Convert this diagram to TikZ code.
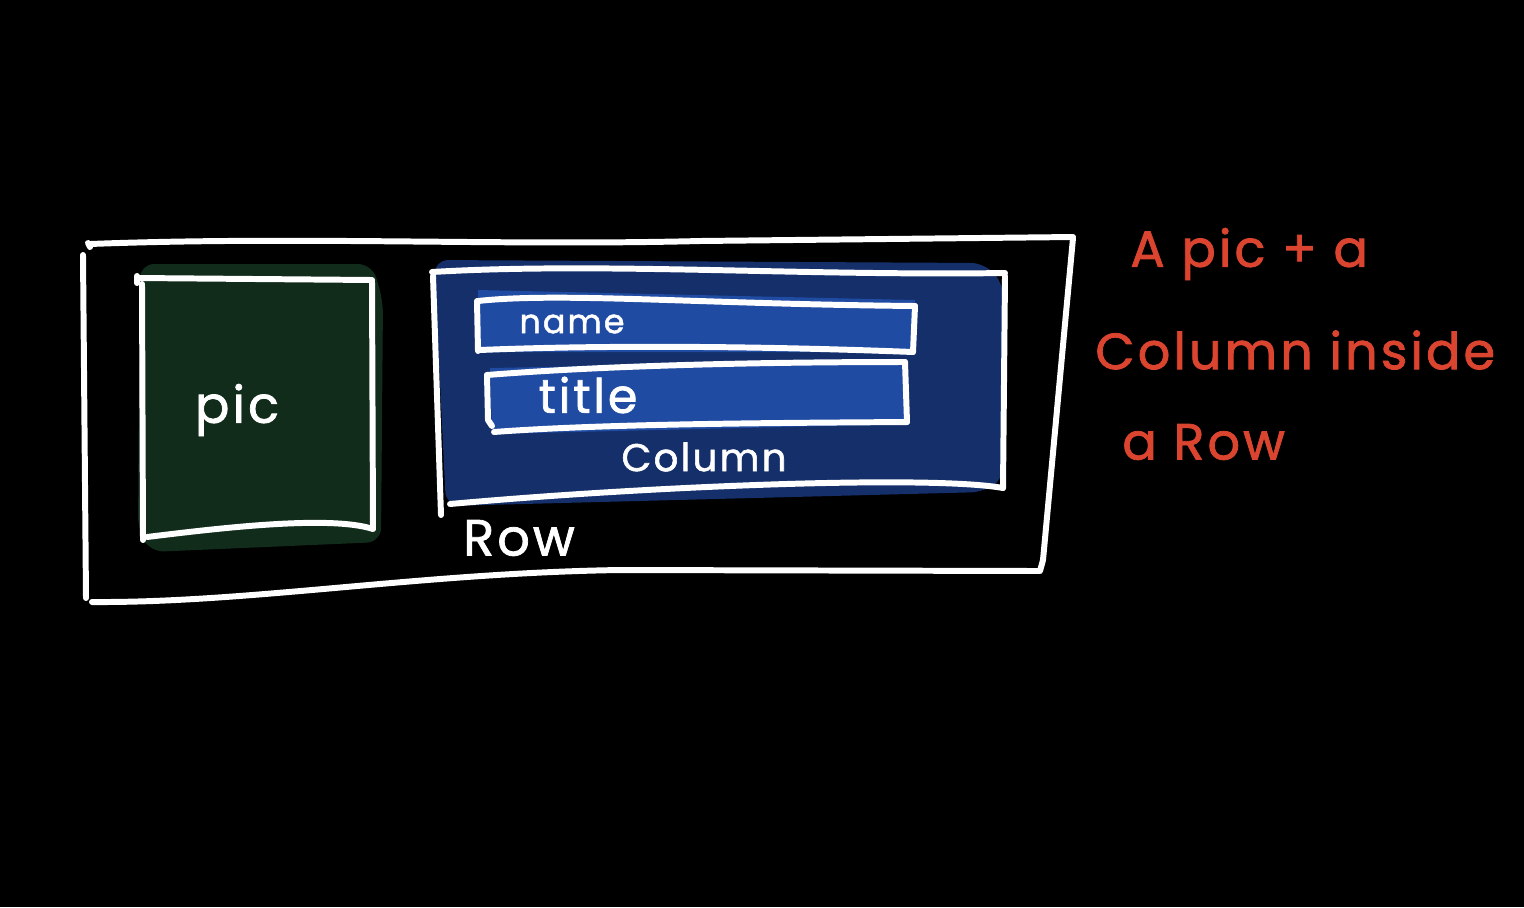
\documentclass[tikz,border=0pt]{standalone}
\usepackage{fontspec}
\setmainfont{Poppins}
\newfontfamily\hand[LetterSpace=6,FakeBold=1.5]{Poppins}
\definecolor{greenfill}{HTML}{122C1B}
\definecolor{colfill}{HTML}{142F69}
\definecolor{itemfill}{HTML}{1F4BA2}
\definecolor{redink}{HTML}{DB4530}
\begin{document}
\begin{tikzpicture}[x=0.02cm,y=-0.02cm,
  ink/.style={white,line width=3.4pt,line cap=round,line join=round},
  whitetext/.style={text=white,inner sep=0pt,font=\hand},
  redtext/.style={text=redink,inner sep=0pt,anchor=west,font=\hand\fontsize{29}{35}\selectfont}]
\fill[black] (0,0) rectangle (1524,907);
\useasboundingbox (0,0) rectangle (1524,907);
% fills
\fill[greenfill,rounded corners=8] (140,264) -- (372,264) -- (383,300) -- (381,542) -- (150,552) -- (138,530) -- cycle;
\fill[colfill,rounded corners=8] (434,260) -- (985,263) -- (1004,285) -- (1004,478) -- (985,492) -- (446,506) -- cycle;
\fill[itemfill] (478,290) -- (915,300) -- (915,352) -- (478,352) -- cycle;
\fill[itemfill] (490,368) -- (905,360) -- (907,424) -- (492,434) -- cycle;
% Row box
\draw[ink] (88,243) -- (90,247);
\draw[ink] (90,244) .. controls (300,236) and (500,246) .. (700,241) -- (1073,237);
\draw[ink] (1073,238) -- (1043,560) -- (1040,571);
\draw[ink] (1038,571) -- (620,570) .. controls (420,573) and (250,603) .. (92,602);
\draw[ink] (83,255) -- (86,598);
% pic box
\draw[ink] (137,276) -- (137,283);
\draw[ink] (138,278) -- (372,280);
\draw[ink] (372,281) -- (373,528);
\draw[ink] (373,529) .. controls (330,515) and (220,528) .. (147,537);
\draw[ink] (142,284) -- (143,540);
% Column box
\draw[ink] (432,272) .. controls (600,262) and (800,276) .. (1005,273);
\draw[ink] (1005,276) -- (1003,488);
\draw[ink] (1003,488) .. controls (930,475) and (650,486) .. (450,504);
\draw[ink] (433,276) -- (441,515);
% name box
\draw[ink] (478,301) .. controls (560,292) and (700,304) .. (915,306);
\draw[ink] (915,306) -- (913,352);
\draw[ink] (913,352) .. controls (760,346) and (600,345) .. (480,350);
\draw[ink] (477,301) -- (478,351);
% title box
\draw[ink] (487,375) .. controls (600,366) and (750,362) .. (905,362);
\draw[ink] (905,362) -- (907,422);
\draw[ink] (907,422) .. controls (760,423) and (600,424) .. (494,432);
\draw[ink] (487,375) -- (488,420) -- (492,426);
% white labels
\node[whitetext,font=\hand\fontsize{29}{35}\selectfont] (pic) at (237,410) {pic};
\node[whitetext,font=\hand\fontsize{19}{23}\selectfont] (name) at (572,324) {name};
\node[whitetext,font=\hand\fontsize{27}{32}\selectfont] (title) at (588,395) {title};
\node[whitetext,font=\hand\fontsize{22}{26}\selectfont] (column) at (704,457) {Column};
\node[whitetext,font=\hand\fontsize{29}{35}\selectfont] (row) at (519,538) {Row};
% red annotation
\node[redtext] (l1) at (1130,254) {A pic + a};
\node[redtext] (l2) at (1095,350) {Column inside};
\node[redtext] (l3) at (1122,442) {a Row};
\end{tikzpicture}
\end{document}
